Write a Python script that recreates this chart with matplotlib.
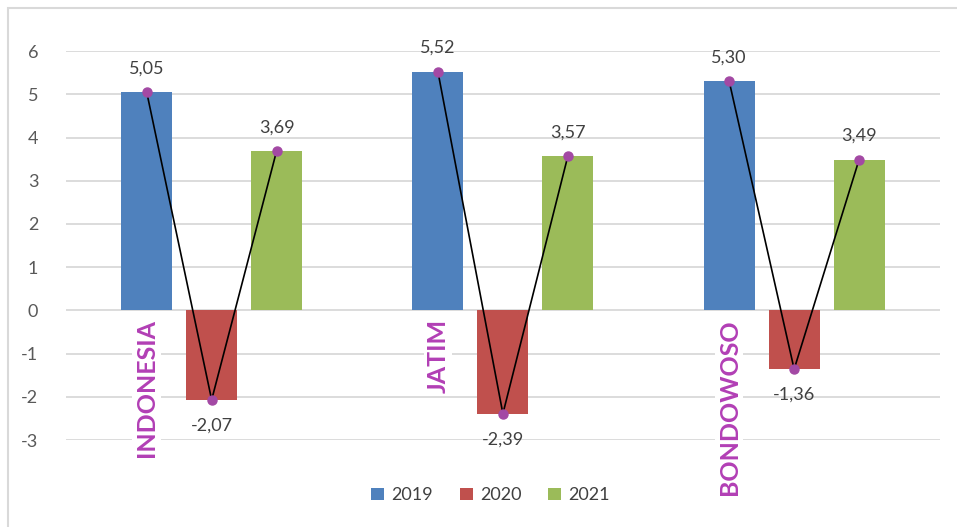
import matplotlib.pyplot as plt
from matplotlib.patches import Rectangle
import numpy as np

plt.rcParams['font.family'] = ['Lato', 'DejaVu Sans']
plt.rcParams['axes.unicode_minus'] = False

regions = ["INDONESIA", "JATIM", "BONDOWOSO"]
years = ["2019", "2020", "2021"]
growth = {
    "2019": [5.05, 5.52, 5.30],
    "2020": [-2.07, -2.39, -1.36],
    "2021": [3.69, 3.57, 3.49],
}
colors = ["#4f81bd", "#c0504d", "#9bbb59"]

fig = plt.figure(figsize=(9.57, 5.27), dpi=100)
ax = fig.add_axes([0.069, 0.165, 0.913, 0.738])

# light border around the chart area
fig.patches.append(Rectangle((8 / 957, -0.05), 1.1, 1.05 - 8 / 527,
                             transform=fig.transFigure, fill=False,
                             edgecolor="#d9d9d9", linewidth=1.5))

x = np.arange(len(regions))
step = 0.223
width = 0.175
for i, (yr, c) in enumerate(zip(years, colors)):
    ax.bar(x + (i - 1) * step, growth[yr], width, color=c, label=yr, zorder=2)

# line through the bar tops, one per region
for j, name in enumerate(regions):
    xs = [j + (i - 1) * step for i in range(3)]
    ys = [growth[yr][j] for yr in years]
    ax.plot(xs, ys, color="black", linewidth=1.2, zorder=3)
    ax.plot(xs, ys, "o", color="#a349a4", markersize=6.5, zorder=4)
    for xv, yv in zip(xs, ys):
        off = 0.55 if yv > 0 else -0.6
        ax.text(xv, yv + off, f"{yv:.2f}".replace(".", ","), ha="center",
                va="center", fontsize=13, color="#404040")
    ax.text(xs[0], -0.2, name, rotation=90, ha="center", va="top",
            fontsize=18, fontweight="bold", color="#b23fb5", zorder=2,
            bbox=dict(facecolor="white", edgecolor="none", pad=2))

ax.set_xlim(-0.5, 2.5)
ax.set_ylim(-3, 6)
ax.set_yticks(range(-3, 7))
ax.set_xticks([])
ax.yaxis.grid(True, color="#d9d9d9", linewidth=1.3)
ax.set_axisbelow(True)
for s in ax.spines.values():
    s.set_visible(False)
ax.tick_params(axis="y", length=0, pad=20, labelsize=13, labelcolor="#595959")

ax.legend(loc="upper center", bbox_to_anchor=(0.486, -0.08), ncol=3,
          frameon=False, fontsize=13, handlelength=0.7, handleheight=0.7,
          columnspacing=1.5, handletextpad=0.4, labelcolor="#404040")

fig.savefig("out.png", dpi=100)
plt.close(fig)
